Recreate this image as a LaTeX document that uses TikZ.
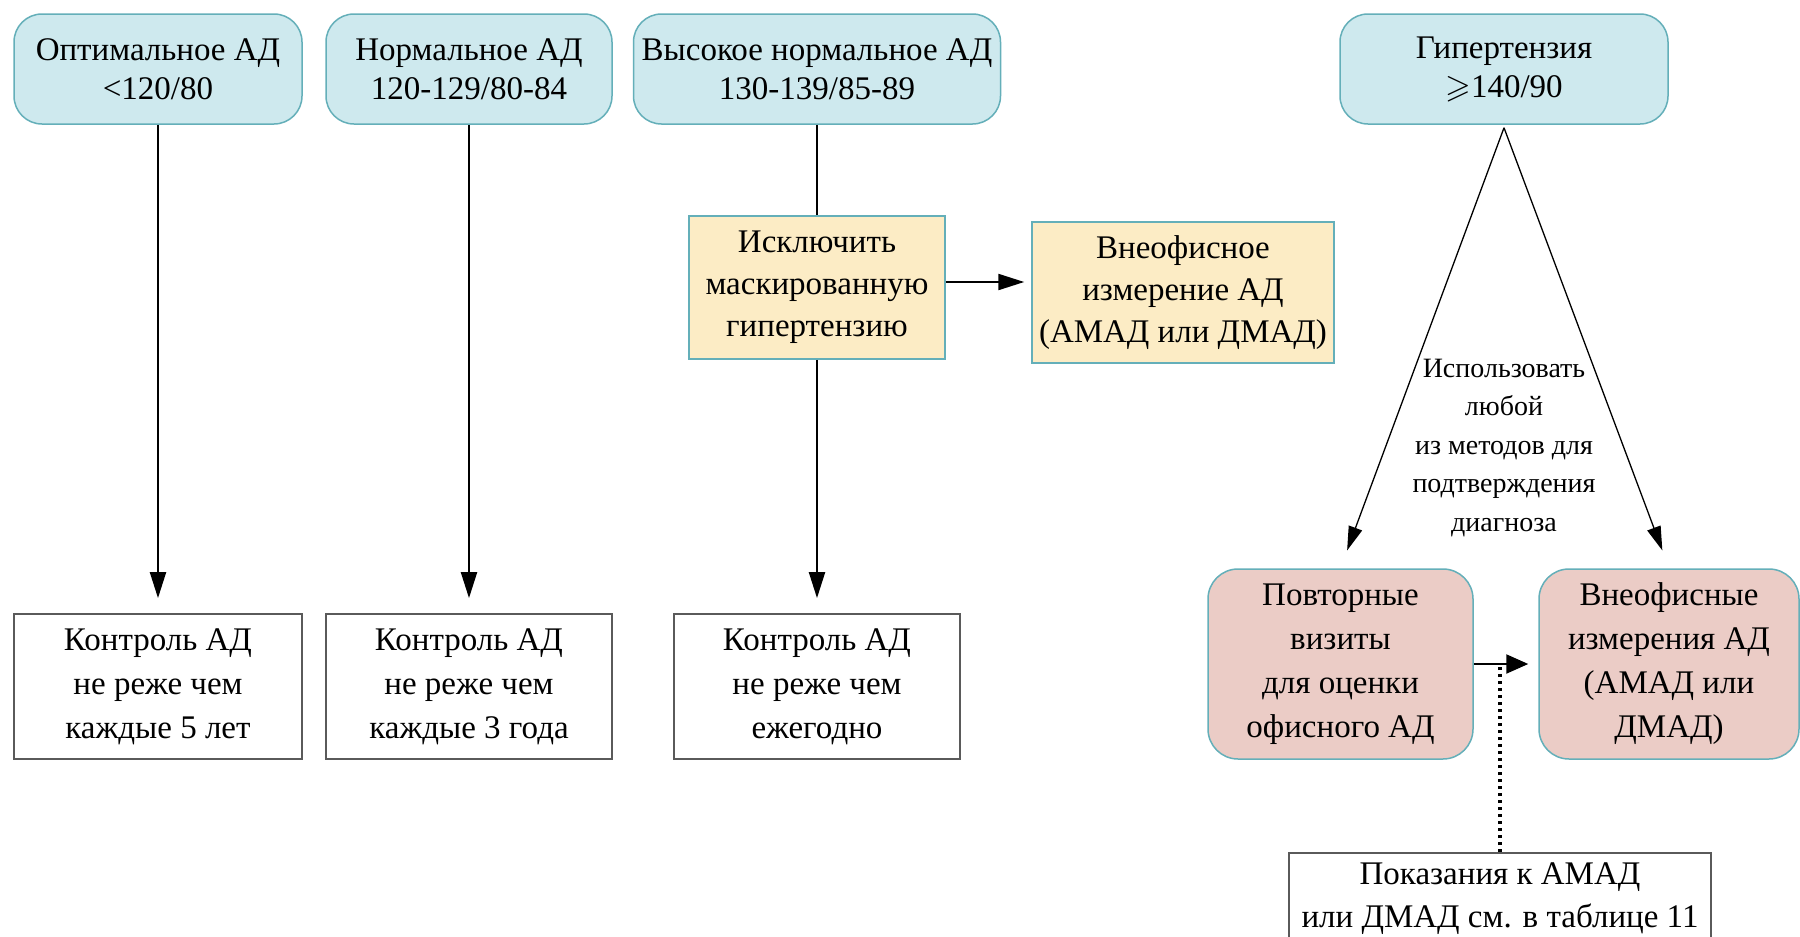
\documentclass[tikz,border=0pt]{standalone}
\usepackage{amssymb}
\usepackage{fontspec}
\setmainfont{Liberation Serif}
\usetikzlibrary{arrows.meta}
\definecolor{bluefill}{RGB}{206,233,238}
\definecolor{tealedge}{RGB}{100,175,185}
\definecolor{yelfill}{RGB}{252,236,197}
\definecolor{pinkfill}{RGB}{235,204,198}
\definecolor{boxedge}{RGB}{90,90,90}
\tikzset{
  base/.style={align=center, inner sep=0pt, text=black},
  topbox/.style={base, rounded corners=28pt, fill=bluefill, draw=tealedge, line width=1.5pt,
     minimum height=110pt, font=\fontsize{33}{39}\selectfont},
  ctrlbox/.style={base, fill=white, draw=boxedge, line width=1.8pt, minimum height=145pt,
     font=\fontsize{33}{44}\selectfont},
  yelbox/.style={base, fill=yelfill, draw=tealedge, line width=1.5pt,
     font=\fontsize{33}{42}\selectfont},
  pinkbox/.style={base, rounded corners=30pt, fill=pinkfill, draw=tealedge, line width=1.5pt,
     minimum height=190pt, font=\fontsize{33}{44}\selectfont},
  arr/.style={line width=2.2pt, -{Triangle[length=26pt,width=16pt]}},
  widearr/.style={line width=2.2pt, -{Triangle[length=22pt,width=19pt]}},
  thinarr/.style={line width=1.3pt, -{Triangle[length=24pt,width=14pt]}},
  plain/.style={line width=2pt},
  dotline/.style={line width=3.2pt, dash pattern=on 3pt off 4pt},
}
\begin{document}
\begin{tikzpicture}[x=1pt,y=-1pt]
\useasboundingbox (0,0) rectangle (1800,937);
\clip (0,0) rectangle (1800,937);
\fill[white] (0,0) rectangle (1800,937);

% top row
\node[topbox, minimum width=288pt] (opt) at (158,69) {Оптимальное АД\\<120/80};
\node[topbox, minimum width=286pt] (norm) at (469,69) {Нормальное АД\\120-129/80-84};
\node[topbox, minimum width=367pt] (high) at (817,69) {Высокое нормальное АД\\130-139/85-89};
\node[topbox, minimum width=328pt] (hyp) at (1504,69) {Гипертензия\\$\geqslant$140/90};

% middle
\node[yelbox, minimum width=256pt, minimum height=143pt] (excl) at (817,287.5)
  {Исключить\\маскированную\\гипертензию};
\node[yelbox, minimum width=302pt, minimum height=141pt] (ooff) at (1183,292.5)
  {Внеофисное\\измерение АД\\(АМАД или ДМАД)};

% bottom control boxes
\node[ctrlbox, minimum width=288pt] (c1) at (158,686.5) {Контроль АД\\не реже чем\\каждые 5 лет};
\node[ctrlbox, minimum width=286pt] (c2) at (469,686.5) {Контроль АД\\не реже чем\\каждые 3 года};
\node[ctrlbox, minimum width=286pt] (c3) at (817,686.5) {Контроль АД\\не реже чем\\ежегодно};

% right branch
\node[pinkbox, minimum width=265pt] (rep) at (1340.5,664)
  {Повторные\\визиты\\для оценки\\офисного АД};
\node[pinkbox, minimum width=260pt] (oofm) at (1669,664)
  {Внеофисные\\измерения АД\\(АМАД или\\ДМАД)};
\node[base, font=\fontsize{28}{38.5}\selectfont] (lab) at (1504,448)
  {Использовать\\любой\\из методов для\\подтверждения\\диагноза};
\node[base, fill=white, draw=boxedge, line width=1.8pt, minimum width=422pt, minimum height=92pt,
  font=\fontsize{33}{43}\selectfont] (ind) at (1500,899)
  {Показания к АМАД\\или ДМАД см. в таблице 11};

% connectors
\draw[arr, shorten >=15pt] (opt) -- (c1);
\draw[arr, shorten >=15pt] (norm) -- (c2);
\draw[plain] (high) -- (excl);
\draw[arr, shorten >=15pt] (excl) -- (c3);
\draw[arr, shorten >=7pt] ([yshift=5.5pt]excl.east) -- ([yshift=5.5pt]excl.east -| ooff.west);
\draw[thinarr, shorten >=19pt] ([yshift=-3pt]hyp.south) -- (rep.north);
\draw[thinarr, shorten >=19pt] ([yshift=-3pt]hyp.south) -- (oofm.north);
\draw[widearr, shorten >=10pt] (rep.east) -- (oofm.west);
\draw[dotline] (ind.north) -- (ind.north |- rep.east);
\end{tikzpicture}
\end{document}
